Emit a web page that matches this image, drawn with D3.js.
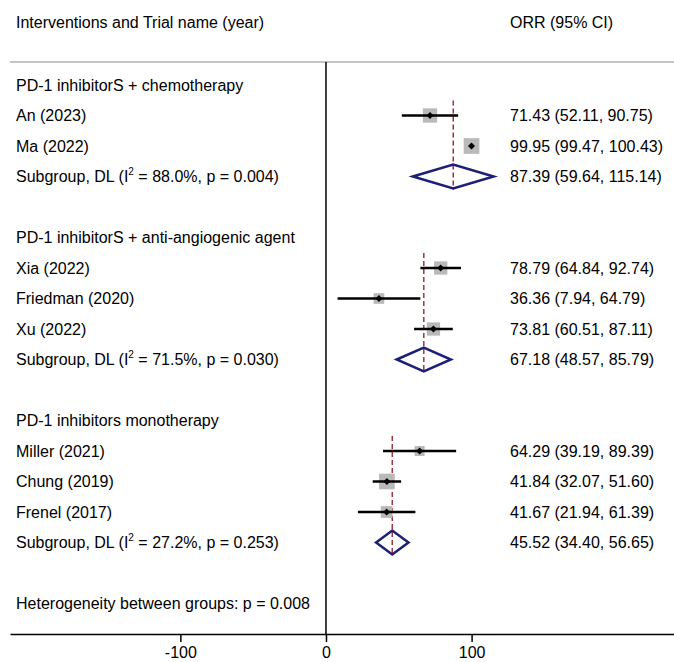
<!DOCTYPE html>
<html>
<head>
<meta charset="utf-8">
<script src="https://cdn.jsdelivr.net/npm/d3@7"></script>
<style>
  body { margin: 0; background: #fff; }
  svg text { font-family: "Liberation Sans", Arial, sans-serif; font-size: 16px; fill: #000; }
</style>
</head>
<body>
<svg></svg>
<script>
var width = 674,
  height = 662;

// study level data
var groups = ["PD-1 inhibitorS + chemotherapy", "PD-1 inhibitorS + anti-angiogenic agent", "PD-1 inhibitors monotherapy"];
var studies = ["An (2023)", "Ma (2022)", "Xia (2022)", "Friedman (2020)", "Xu (2022)", "Miller (2021)", "Chung (2019)", "Frenel (2017)"];
var studyGroup = [0, 0, 1, 1, 1, 2, 2, 2];
var orr = [71.43, 99.95, 78.79, 36.36, 73.81, 64.29, 41.84, 41.67];
var lower = [52.11, 99.47, 64.84, 7.94, 60.51, 39.19, 32.07, 21.94];
var upper = [90.75, 100.43, 92.74, 64.79, 87.11, 89.39, 51.60, 61.39];
var weights = [14.6, 17.6, 12.6, 8.1, 12.6, 7.1, 17.6, 9.8];

// subgroup pooled estimates
var subOrr = [87.39, 67.18, 45.52];
var subLower = [59.64, 48.57, 34.40];
var subUpper = [115.14, 85.79, 56.65];
var subI2 = ["88.0%", "71.5%", "27.2%"];
var subP = ["0.004", "0.030", "0.253"];
var betweenP = "0.008";

var xTicks = [-100, 0, 100];

var fmt = d3.format(".2f");

var svg = d3.select("svg")
  .attr("width", width)
  .attr("height", height);

// build the row list
var rows = [];
groups.forEach(function(g, gi) {
  rows.push({ type: "group", label: g });
  studies.forEach(function(s, i) {
    if (studyGroup[i] === gi) rows.push({ type: "study", i: i });
  });
  rows.push({ type: "sub", g: gi });
  rows.push({ type: "blank" });
});
rows.push({ type: "het" });

var x = d3.scaleLinear().domain([-217, 239]).range([10, 674]);
var y = d3.scaleLinear().domain([0, rows.length - 1]).range([85, 85 + 30.5 * (rows.length - 1)]);
var box = d3.scaleSqrt().domain([0, 17.6]).range([0, 15.7]);

var headerY = 62,
  axisY = 634,
  textX = 16,
  valX = 510;

// header
svg.append("text").attr("x", textX).attr("y", 28).text("Interventions and Trial name (year)");
svg.append("text").attr("x", valX).attr("y", 28).text("ORR (95% CI)");

svg.append("line")
  .attr("x1", 10).attr("x2", width)
  .attr("y1", headerY).attr("y2", headerY)
  .style("stroke", "#c4c4c4").style("stroke-width", 2);

// null line
svg.append("line")
  .attr("x1", x(0)).attr("x2", x(0))
  .attr("y1", headerY).attr("y2", axisY)
  .style("stroke", "#000").style("stroke-width", 1.5);

// pooled dashed lines per subgroup
groups.forEach(function(g, gi) {
  var idx = rows.map(function(r, k) { return k; }).filter(function(k) {
    return (rows[k].type === "study" && studyGroup[rows[k].i] === gi) || (rows[k].type === "sub" && rows[k].g === gi);
  });
  svg.append("line")
    .attr("x1", x(subOrr[gi])).attr("x2", x(subOrr[gi]))
    .attr("y1", y(d3.min(idx)) - 15).attr("y2", y(d3.max(idx)) + 13)
    .style("stroke", "#a3333d").style("stroke-width", 1.5)
    .style("stroke-dasharray", "5,3");
});

var rowG = svg.selectAll(".row")
  .data(rows)
  .enter().append("g")
  .attr("class", "row")
  .attr("transform", function(d, k) { return "translate(0," + y(k) + ")"; });

rowG.each(function(d) {
  var g = d3.select(this);
  if (d.type === "group") {
    g.append("text").attr("x", textX).attr("y", 5.5).text(d.label);
  } else if (d.type === "study") {
    var i = d.i;
    var s = box(weights[i]);
    var cx = x(orr[i]);
    g.append("rect")
      .attr("x", cx - s / 2).attr("y", -s / 2)
      .attr("width", s).attr("height", s)
      .style("fill", "#b9b9b9");
    g.append("line")
      .attr("x1", x(lower[i])).attr("x2", x(upper[i]))
      .style("stroke", "#000").style("stroke-width", 2.5);
    g.append("path")
      .attr("d", "M" + (cx - 3.5) + ",0L" + cx + ",-3.5L" + (cx + 3.5) + ",0L" + cx + ",3.5Z")
      .style("fill", "#000");
    g.append("text").attr("x", textX).attr("y", 5.5).text(studies[i]);
    g.append("text").attr("x", valX).attr("y", 5.5)
      .text(fmt(orr[i]) + " (" + fmt(lower[i]) + ", " + fmt(upper[i]) + ")");
  } else if (d.type === "sub") {
    var k = d.g;
    var h = 12;
    g.append("path")
      .attr("d", "M" + x(subLower[k]) + ",0L" + x(subOrr[k]) + "," + (-h) +
        "L" + x(subUpper[k]) + ",0L" + x(subOrr[k]) + "," + h + "Z")
      .style("fill", "none").style("stroke", "#1c1f78").style("stroke-width", 2.5)
      .style("stroke-linejoin", "miter");
    var t = g.append("text").attr("x", textX).attr("y", 5.5);
    t.append("tspan").text("Subgroup, DL (I");
    t.append("tspan").attr("dy", -7).style("font-size", "10px").text("2");
    t.append("tspan").attr("dy", 7).text(" = " + subI2[k] + ", p = " + subP[k] + ")");
    g.append("text").attr("x", valX).attr("y", 5.5)
      .text(fmt(subOrr[k]) + " (" + fmt(subLower[k]) + ", " + fmt(subUpper[k]) + ")");
  } else if (d.type === "het") {
    g.append("text").attr("x", textX).attr("y", 5.5)
      .text("Heterogeneity between groups: p = " + betweenP);
  }
});

// x axis
var xAxis = d3.axisBottom(x)
  .tickValues(xTicks)
  .tickSize(8)
  .tickSizeOuter(0)
  .tickPadding(5)
  .tickFormat(function(d) { return String(d); });

var ax = svg.append("g")
  .attr("class", "x axis")
  .attr("transform", "translate(0," + axisY + ")")
  .call(xAxis);

ax.select(".domain").style("stroke", "#000").style("stroke-width", 1.5);
ax.selectAll(".tick line").style("stroke", "#000").style("stroke-width", 1.5);
ax.selectAll(".tick text")
  .style("font-family", "'Liberation Sans', Arial, sans-serif")
  .style("font-size", "16px")
  .style("fill", "#000");
</script>
</body>
</html>
